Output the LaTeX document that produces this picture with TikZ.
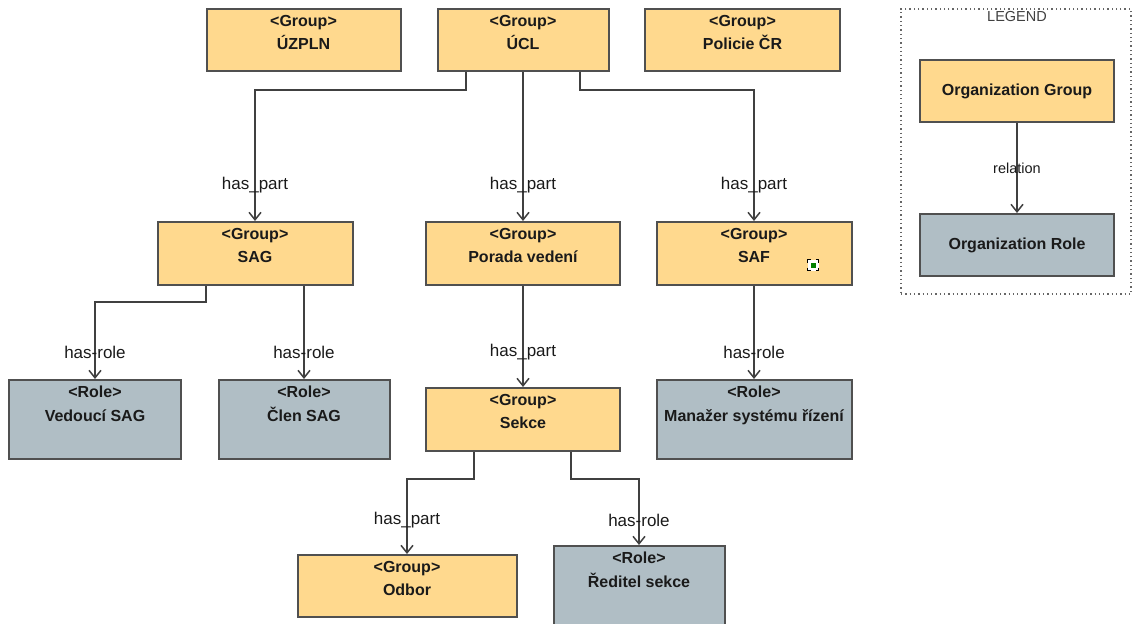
\documentclass[tikz,border=0pt]{standalone}
\usepackage{fontspec}
\setmainfont{Liberation Sans}
\usetikzlibrary{arrows.meta}
\definecolor{groupfill}{HTML}{FFD98E}
\definecolor{rolefill}{HTML}{B0BEC5}
\definecolor{edgecol}{HTML}{505050}
\definecolor{linecol}{HTML}{404040}
\definecolor{txt}{HTML}{1A1A1A}
\begin{document}
\begin{tikzpicture}[x=1pt,y=-1pt,
  box/.style={draw=edgecol, line width=2pt, inner sep=0pt, rectangle},
  groupbox/.style={box, fill=groupfill},
  rolebox/.style={box, fill=rolefill},
  boxtext/.style={anchor=north, inner sep=0pt, align=center, text=txt,
    font=\bfseries\fontsize{16}{23.5}\selectfont},
  legtext/.style={inner sep=0pt, text=txt, font=\bfseries\fontsize{16}{19}\selectfont},
  lbl/.style={inner sep=0pt, text=txt, font=\fontsize{17}{20}\selectfont},
  conn/.style={draw=linecol, line width=1.5pt,
    -{Straight Barb[length=7.5pt,width=12pt,line width=1.5pt]}},
]
\useasboundingbox (0,0) rectangle (1133,624);

% ---- top row of groups
\node[groupbox, minimum width=194pt, minimum height=62pt] (uzpln) at (303.5,40) {};
\node[boxtext] (uzpln-t) at ([yshift=-7pt]uzpln.north) {<Group>\\ÚZPLN};
\node[groupbox, minimum width=171pt, minimum height=62pt] (ucl) at (523,40) {};
\node[boxtext] (ucl-t) at ([yshift=-7pt]ucl.north) {<Group>\\ÚCL};
\node[groupbox, minimum width=195pt, minimum height=62pt] (policie) at (742.5,40) {};
\node[boxtext] (policie-t) at ([yshift=-7pt]policie.north) {<Group>\\Policie ČR};

% ---- second row
\node[groupbox, minimum width=195pt, minimum height=63pt] (sag) at (255,253.5) {};
\node[boxtext] (sag-t) at ([yshift=-7pt]sag.north) {<Group>\\SAG};
\node[groupbox, minimum width=194pt, minimum height=63pt] (porada) at (523,253.5) {};
\node[boxtext] (porada-t) at ([yshift=-7pt]porada.north) {<Group>\\Porada vedení};
\node[groupbox, minimum width=195pt, minimum height=63pt] (saf) at (754,253.5) {};
\node[boxtext] (saf-t) at ([yshift=-7pt]saf.north) {<Group>\\SAF};

% selection marker inside SAF
\coordinate (mk) at (813,265);
\node[fill=white, minimum size=11pt, inner sep=0pt] (marker) at (mk) {};
\node[fill=green!50!black, minimum size=5pt, inner sep=0pt] (marker-in) at (mk) {};
\draw[black, line width=0.9pt]
  ([xshift=-5.5pt,yshift=2.5pt]mk) -- ++(0,-3) -- ++(3,0)
  ([xshift=5.5pt,yshift=2.5pt]mk) -- ++(0,-3) -- ++(-3,0)
  ([xshift=-5.5pt,yshift=-2.5pt]mk) -- ++(0,3) -- ++(3,0)
  ([xshift=5.5pt,yshift=-2.5pt]mk) -- ++(0,3) -- ++(-3,0);

% ---- third row
\node[rolebox, minimum width=172pt, minimum height=79pt] (vedouci) at (95,419.5) {};
\node[boxtext] (vedouci-t) at ([yshift=-7pt]vedouci.north) {<Role>\\Vedoucí SAG};
\node[rolebox, minimum width=171pt, minimum height=79pt] (clen) at (304,419.5) {};
\node[boxtext] (clen-t) at ([yshift=-7pt]clen.north) {<Role>\\Člen SAG};
\node[groupbox, minimum width=194pt, minimum height=63pt] (sekce) at (523,419.5) {};
\node[boxtext] (sekce-t) at ([yshift=-7pt]sekce.north) {<Group>\\Sekce};
\node[rolebox, minimum width=195pt, minimum height=79pt] (manazer) at (754,419.5) {};
\node[boxtext] (manazer-t) at ([yshift=-7pt]manazer.north) {<Role>\\Manažer systému řízení};

% ---- bottom row
\node[groupbox, minimum width=219pt, minimum height=62pt] (odbor) at (407,586) {};
\node[boxtext] (odbor-t) at ([yshift=-7pt]odbor.north) {<Group>\\Odbor};
\node[rolebox, minimum width=171pt, minimum height=80pt] (reditel) at (639,586) {};
\node[boxtext] (reditel-t) at ([yshift=-7pt]reditel.north) {<Role>\\Ředitel sekce};

% ---- connectors
\draw[conn] ([xshift=-57pt]ucl.south) -- ++(0,18) -| (sag.north);
\draw[conn] (ucl.south) -- (porada.north);
\draw[conn] ([xshift=57pt]ucl.south) -- ++(0,18) -| (saf.north);
\draw[conn] ([xshift=-49pt]sag.south) -- ++(0,16) -| (vedouci.north);
\draw[conn] (clen.north |- sag.south) -- (clen.north);
\draw[conn] (porada.south) -- (sekce.north);
\draw[conn] (saf.south) -- (manazer.north);
\draw[conn] ([xshift=-49pt]sekce.south) -- ++(0,27) -| (odbor.north);
\draw[conn] ([xshift=48pt]sekce.south) -- ++(0,27) -| (reditel.north);

% ---- connector labels
\node[lbl] (l-sag) at (sag.north |- 0,185) {has\_part};
\node[lbl] (l-porada) at (porada.north |- 0,185) {has\_part};
\node[lbl] (l-saf) at (saf.north |- 0,185) {has\_part};
\node[lbl] (l-vedouci) at (vedouci.north |- 0,352) {has-role};
\node[lbl] (l-clen) at (clen.north |- 0,352) {has-role};
\node[lbl] (l-sekce) at (sekce.north |- 0,352) {has\_part};
\node[lbl] (l-manazer) at (manazer.north |- 0,352) {has-role};
\node[lbl] (l-odbor) at (odbor.north |- 0,520) {has\_part};
\node[lbl] (l-reditel) at (reditel.north |- 0,520) {has-role};

% ---- legend
\node[draw=black!60, line width=1.3pt, dash pattern=on 1.3pt off 3pt,
  minimum width=230pt, minimum height=285pt, inner sep=0pt] (legend) at (1016,151.5) {};
\node[inner sep=0pt, text=black!75, font=\fontsize{14.5}{17}\selectfont] (legend-t) at (1017,17) {LEGEND};
\node[groupbox, minimum width=194pt, minimum height=62pt] (lg) at (1017,91) {};
\node[legtext] (lg-t) at (lg) {Organization Group};
\node[rolebox, minimum width=194pt, minimum height=62pt] (lr) at (1017,245) {};
\node[legtext] (lr-t) at (lr) {Organization Role};
\draw[conn] (lg.south) -- (lr.north);
\node[lbl, font=\fontsize{14.5}{17}\selectfont] (l-rel) at (1017,168) {relation};
\end{tikzpicture}
\end{document}
